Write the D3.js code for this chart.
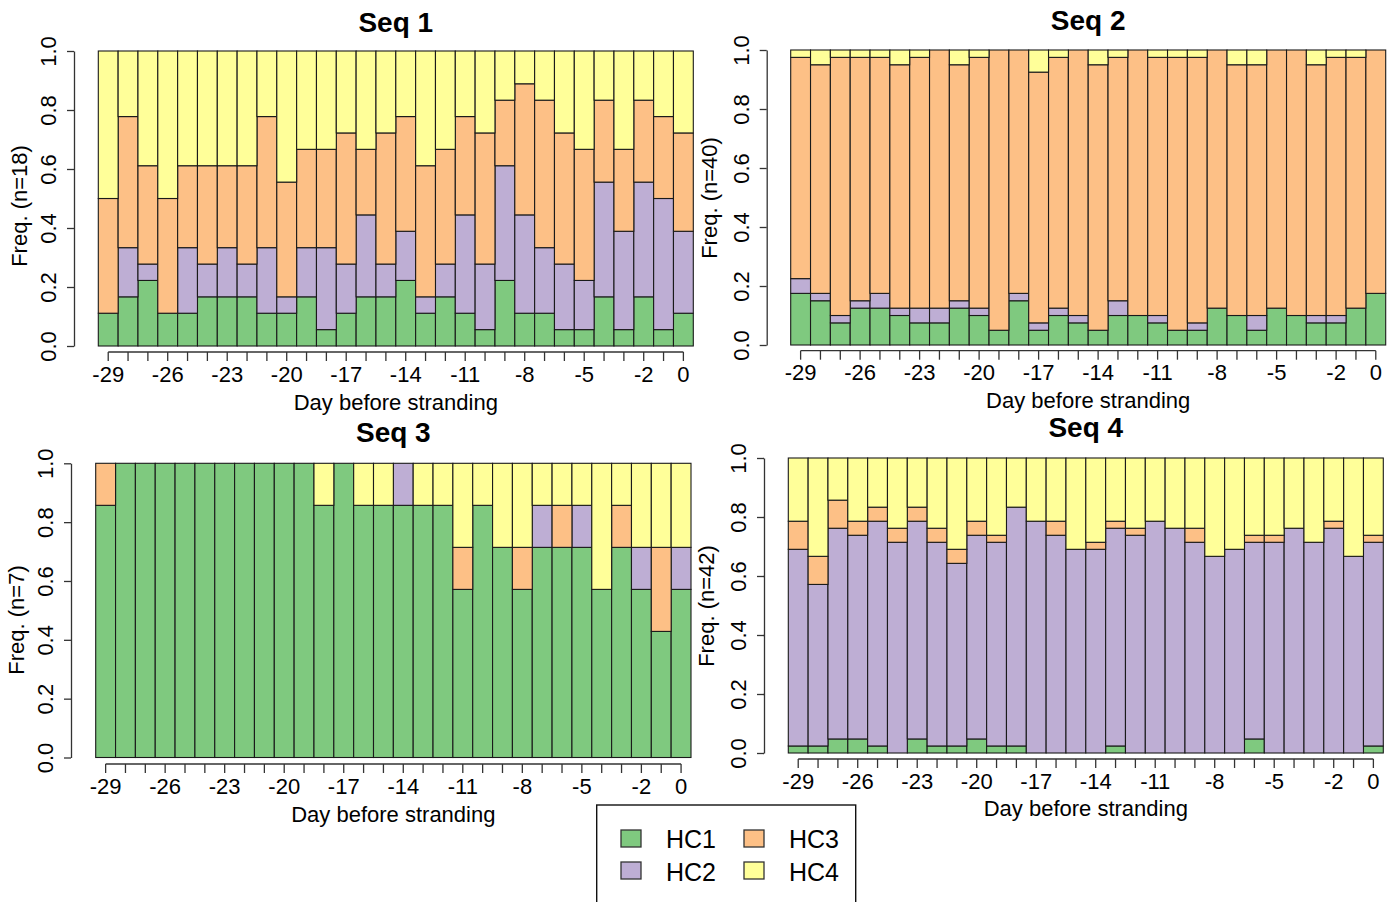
<!DOCTYPE html>
<html>
<head>
<meta charset="utf-8">
<script src="https://cdn.jsdelivr.net/npm/d3@7"></script>
<style>
  html, body { margin: 0; padding: 0; background: #ffffff; }
  svg { display: block; font-family: "Liberation Sans", Arial, sans-serif; }
</style>
</head>
<body>
<svg id="chart" width="1395" height="902"></svg>
<script>
// Days before stranding (one bar per day)
const days = [-29, -28, -27, -26, -25, -24, -23, -22, -21, -20, -19, -18, -17, -16, -15,
              -14, -13, -12, -11, -10, -9, -8, -7, -6, -5, -4, -3, -2, -1, 0];
// Tick labels that are printed under the x axis
const tickLabels = ["-29", "-26", "-23", "-20", "-17", "-14", "-11", "-8", "-5", "-2", "0"];
const yTicks = [0, 0.2, 0.4, 0.6, 0.8, 1.0];

const classes = ["HC1", "HC2", "HC3", "HC4"];
const classColors = ["#7FC97F", "#BEAED4", "#FDC086", "#FFFF99"];

// Seq 1 (n = 18): individuals per cluster per day
const seq1N = 18;
const seq1HC1 = [2, 3, 4, 2, 2, 3, 3, 3, 2, 2, 3, 1, 2, 3, 3, 4, 2, 3, 2, 1, 4, 2, 2, 1, 1, 3, 1, 3, 1, 2];
const seq1HC2 = [0, 3, 1, 0, 4, 2, 3, 2, 4, 1, 3, 5, 3, 5, 2, 3, 1, 2, 6, 4, 7, 6, 4, 4, 3, 7, 6, 7, 8, 5];
const seq1HC3 = [7, 8, 6, 7, 5, 6, 5, 6, 8, 7, 6, 6, 8, 4, 8, 7, 8, 7, 6, 8, 4, 8, 9, 8, 8, 5, 5, 5, 5, 6];
const seq1HC4 = [9, 4, 7, 9, 7, 7, 7, 7, 4, 8, 6, 6, 5, 6, 5, 4, 7, 6, 4, 5, 3, 2, 3, 5, 6, 3, 6, 3, 4, 5];

// Seq 2 (n = 40)
const seq2N = 40;
const seq2HC1 = [7, 6, 3, 5, 5, 4, 3, 3, 5, 4, 2, 6, 2, 4, 3, 2, 4, 4, 3, 2, 2, 5, 4, 2, 5, 4, 3, 3, 5, 7];
const seq2HC2 = [2, 1, 1, 1, 2, 1, 2, 2, 1, 1, 0, 1, 1, 1, 1, 0, 2, 0, 1, 0, 1, 0, 0, 2, 0, 0, 1, 1, 0, 0];
const seq2HC3 = [30, 31, 35, 33, 32, 33, 34, 35, 32, 34, 38, 33, 34, 34, 36, 36, 33, 36, 35, 37, 36, 35, 34, 34, 35, 36, 34, 35, 34, 33];
const seq2HC4 = [1, 2, 1, 1, 1, 2, 1, 0, 2, 1, 0, 0, 3, 1, 0, 2, 1, 0, 1, 1, 1, 0, 2, 2, 0, 0, 2, 1, 1, 0];

// Seq 3 (n = 7)
const seq3N = 7;
const seq3HC1 = [6, 7, 7, 7, 7, 7, 7, 7, 7, 7, 7, 6, 7, 6, 6, 6, 6, 6, 4, 6, 5, 4, 5, 5, 5, 4, 5, 4, 3, 4];
const seq3HC2 = [0, 0, 0, 0, 0, 0, 0, 0, 0, 0, 0, 0, 0, 0, 0, 1, 0, 0, 0, 0, 0, 0, 1, 0, 1, 0, 0, 1, 0, 1];
const seq3HC3 = [1, 0, 0, 0, 0, 0, 0, 0, 0, 0, 0, 0, 0, 0, 0, 0, 0, 0, 1, 0, 0, 1, 0, 1, 0, 0, 1, 0, 2, 0];
const seq3HC4 = [0, 0, 0, 0, 0, 0, 0, 0, 0, 0, 0, 1, 0, 1, 1, 0, 1, 1, 2, 1, 2, 2, 1, 1, 1, 3, 1, 2, 2, 2];

// Seq 4 (n = 42)
const seq4N = 42;
const seq4HC1 = [1, 1, 2, 2, 1, 0, 2, 1, 1, 2, 1, 1, 0, 0, 0, 0, 1, 0, 0, 0, 0, 0, 0, 2, 0, 0, 0, 0, 0, 1];
const seq4HC2 = [28, 23, 30, 29, 32, 30, 31, 29, 26, 29, 29, 34, 33, 31, 29, 29, 31, 31, 33, 32, 30, 28, 29, 28, 30, 32, 30, 32, 28, 29];
const seq4HC3 = [4, 4, 4, 2, 2, 2, 2, 2, 2, 2, 1, 0, 0, 2, 0, 1, 1, 1, 0, 0, 2, 0, 0, 1, 1, 0, 0, 1, 0, 1];
const seq4HC4 = [9, 14, 6, 9, 7, 10, 7, 10, 13, 9, 11, 7, 9, 9, 13, 12, 9, 10, 9, 10, 10, 14, 13, 11, 11, 10, 12, 9, 14, 11];

// Panel geometry (pixels)
const panels = [
  { title: "Seq 1", n: seq1N, series: [seq1HC1, seq1HC2, seq1HC3, seq1HC4],
    left: 98.3, right: 693.3, top: 51, bottom: 346, yAxisX: 74, xAxisY: 352,
    titleY: 31.5, xTitleY: 410, yTitleX: 27, yTitleY: 206 },
  { title: "Seq 2", n: seq2N, series: [seq2HC1, seq2HC2, seq2HC3, seq2HC4],
    left: 790.7, right: 1385.7, top: 50, bottom: 345, yAxisX: 766.7, xAxisY: 350.7,
    titleY: 30, xTitleY: 408, yTitleX: 717, yTitleY: 198 },
  { title: "Seq 3", n: seq3N, series: [seq3HC1, seq3HC2, seq3HC3, seq3HC4],
    left: 95.7, right: 691, top: 463.3, bottom: 757.5, yAxisX: 71, xAxisY: 764,
    titleY: 442, xTitleY: 822, yTitleX: 24, yTitleY: 620 },
  { title: "Seq 4", n: seq4N, series: [seq4HC1, seq4HC2, seq4HC3, seq4HC4],
    left: 788.3, right: 1383.3, top: 458, bottom: 753, yAxisX: 764, xAxisY: 759,
    titleY: 437, xTitleY: 816, yTitleX: 714, yTitleY: 606 }
];

const svg = d3.select("#chart");
svg.append("rect").attr("width", 1395).attr("height", 902).attr("fill", "#ffffff");

const axisColor = "#333333";

panels.forEach(p => {
  const g = svg.append("g");

  // Rows of proportions, one per day
  const rows = days.map((d, i) => {
    const row = { day: d };
    classes.forEach((c, k) => { row[c] = p.series[k][i] / p.n; });
    return row;
  });
  const stacked = d3.stack().keys(classes)(rows);

  const x = d3.scaleBand().domain(days).range([p.left, p.right]).padding(0);
  const y = d3.scaleLinear().domain([0, 1]).range([p.bottom, p.top]);

  // Stacked bars
  g.selectAll("g.layer")
    .data(stacked)
    .join("g")
    .attr("class", "layer")
    .attr("fill", (s, k) => classColors[k])
    .selectAll("rect")
    .data(s => s.filter(seg => seg[1] - seg[0] > 1e-9))
    .join("rect")
    .attr("x", seg => x(seg.data.day))
    .attr("width", x.bandwidth())
    .attr("y", seg => y(seg[1]))
    .attr("height", seg => y(seg[0]) - y(seg[1]))
    .attr("stroke", "#1a1a1a")
    .attr("stroke-width", 1.1);

  // Y axis with rotated labels
  const yAxis = g.append("g")
    .attr("transform", `translate(${p.yAxisX},0)`)
    .call(d3.axisLeft(y).tickValues(yTicks).tickFormat(d3.format(".1f"))
      .tickSize(7).tickSizeOuter(0));
  yAxis.select(".domain").attr("stroke", axisColor).attr("stroke-width", 1.3);
  yAxis.selectAll(".tick line").attr("stroke", axisColor).attr("stroke-width", 1.3);
  yAxis.selectAll(".tick text")
    .attr("x", null).attr("dy", null)
    .attr("transform", "translate(-18,0) rotate(-90)")
    .attr("text-anchor", "middle")
    .attr("font-size", 22)
    .attr("fill", "#000");

  // X axis: a tick under every bar, labels only where listed
  const xAxis = g.append("g")
    .attr("transform", `translate(0,${p.xAxisY})`)
    .call(d3.axisBottom(x)
      .tickFormat(d => tickLabels.includes(String(d)) ? String(d) : "")
      .tickSize(9).tickPadding(5));
  xAxis.select(".domain").remove();
  xAxis.append("line")
    .attr("x1", x(days[0]) + x.bandwidth() / 2)
    .attr("x2", x(days[days.length - 1]) + x.bandwidth() / 2)
    .attr("stroke", axisColor).attr("stroke-width", 1.3);
  xAxis.selectAll(".tick line").attr("stroke", axisColor).attr("stroke-width", 1.3);
  xAxis.selectAll(".tick text").attr("font-size", 22).attr("fill", "#000");

  // Titles
  g.append("text")
    .attr("x", (p.left + p.right) / 2).attr("y", p.titleY)
    .attr("text-anchor", "middle").attr("font-weight", "bold").attr("font-size", 28)
    .text(p.title);
  g.append("text")
    .attr("x", (p.left + p.right) / 2).attr("y", p.xTitleY)
    .attr("text-anchor", "middle").attr("font-size", 22)
    .text("Day before stranding");
  g.append("text")
    .attr("transform", `translate(${p.yTitleX},${p.yTitleY}) rotate(-90)`)
    .attr("text-anchor", "middle").attr("font-size", 22)
    .text(`Freq. (n=${p.n})`);
});

// Legend
const legend = svg.append("g");
legend.append("rect")
  .attr("x", 596.7).attr("y", 805).attr("width", 259).attr("height", 110)
  .attr("fill", "#ffffff").attr("stroke", "#111").attr("stroke-width", 1.4);

const legendPos = [
  { sx: 621, sy: 830, tx: 666, ty: 848 },
  { sx: 621, sy: 862, tx: 666, ty: 881 },
  { sx: 744, sy: 830, tx: 789, ty: 848 },
  { sx: 744, sy: 862, tx: 789, ty: 881 }
];
classes.forEach((c, k) => {
  const pos = legendPos[k];
  legend.append("rect")
    .attr("x", pos.sx).attr("y", pos.sy).attr("width", 20).attr("height", 17)
    .attr("fill", classColors[k]).attr("stroke", "#333").attr("stroke-width", 1.3);
  legend.append("text")
    .attr("x", pos.tx).attr("y", pos.ty).attr("font-size", 25)
    .text(c);
});
</script>
</body>
</html>
